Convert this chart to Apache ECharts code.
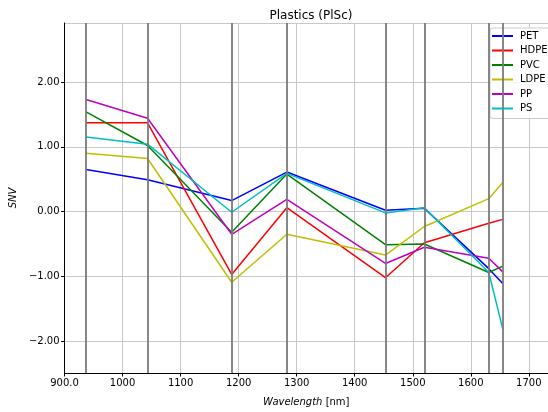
<!DOCTYPE html>
<html>
<head>
<meta charset="utf-8">
<script src="https://cdn.jsdelivr.net/npm/echarts@6/dist/echarts.min.js"></script>
<style>
html,body{margin:0;padding:0;background:#fff;}
#chart{width:548px;height:412px;}
</style>
</head>
<body>
<div id="chart"></div>
<script>
// Wavelengths (nm) of the measured bands
const wavelengths = [937, 1043, 1188, 1283, 1453, 1520, 1631, 1655];
const seriesNames = ['PET', 'HDPE', 'PVC', 'LDPE', 'PP', 'PS'];
const PET  = [0.65, 0.49, 0.17, 0.61, 0.02, 0.05, -0.88, -1.11];
const HDPE = [1.37, 1.37, -0.97, 0.06, -1.02, -0.48, -0.18, -0.12];
const PVC  = [1.54, 1.02, -0.32, 0.58, -0.51, -0.50, -0.94, -0.84];
const LDPE = [0.90, 0.82, -1.09, -0.35, -0.67, -0.23, 0.20, 0.45];
const PP   = [1.73, 1.44, -0.35, 0.19, -0.80, -0.55, -0.72, -0.93];
const PS   = [1.15, 1.04, -0.01, 0.59, -0.02, 0.06, -0.94, -1.81];
const xTickValues = [900, 1000, 1100, 1200, 1300, 1400, 1500, 1600, 1700];
const yTickValues = [-2, -1, 0, 1, 2];

const seriesValues = [PET, HDPE, PVC, LDPE, PP, PS];
const colors = ['#0000ff', '#ff0000', '#008000', '#bfbf00', '#bf00bf', '#00bfbf'];
const FONT = 'DejaVu Sans';

const chart = echarts.init(document.getElementById('chart'), null, {renderer: 'canvas'});

const series = seriesNames.map((name, i) => ({
  name: name,
  type: 'line',
  data: wavelengths.map((w, j) => [w, seriesValues[i][j]]),
  showSymbol: false,
  symbol: 'none',
  lineStyle: {color: colors[i], width: 1.5},
  itemStyle: {color: colors[i]},
  z: 3,
  animation: false
}));

series.push({
  name: 'bands',
  type: 'line',
  data: [],
  silent: true,
  z: 2,
  markLine: {
    silent: true,
    symbol: ['none', 'none'],
    label: {show: false},
    lineStyle: {color: '#7a7a7a', width: 2, type: 'solid', opacity: 0.9},
    data: wavelengths.map(w => ({xAxis: w})),
    animation: false
  }
});

chart.setOption({
  animation: false,
  backgroundColor: '#ffffff',
  title: {
    text: 'Plastics (PlSc)',
    left: 306, top: 5, textAlign: 'center',
    textStyle: {fontFamily: FONT, fontSize: 12, fontWeight: 'normal', color: '#000'}
  },
  grid: {left: 64, right: 0, top: 23, bottom: 34, containLabel: false},
  legend: {
    data: seriesNames,
    orient: 'vertical',
    left: 490, top: 28,
    icon: 'rect',
    itemWidth: 21, itemHeight: 2,
    itemGap: 4.5,
    padding: [3, 12, 5, 2],
    backgroundColor: 'rgba(255,255,255,0.85)',
    borderColor: '#cccccc', borderWidth: 1, borderRadius: 3,
    textStyle: {fontFamily: FONT, fontSize: 10, color: '#000', padding: [0, 0, 0, 2], lineHeight: 10}
  },
  xAxis: {
    type: 'value',
    min: 900, max: 1733, interval: 100,
    name: '{i|Wavelength} [nm]',
    nameLocation: 'middle', nameGap: 24,
    nameTextStyle: {
      fontFamily: FONT, fontSize: 10, color: '#000',
      rich: {i: {fontFamily: FONT, fontSize: 10, fontStyle: 'italic', color: '#000'}}
    },
    axisLine: {show: true, onZero: false, lineStyle: {color: '#000', width: 1}},
    axisTick: {show: true, length: 3.5, inside: false, lineStyle: {color: '#000'}},
    axisLabel: {
      fontFamily: FONT, fontSize: 10, color: '#000', margin: 5, showMaxLabel: false,
      formatter: v => (xTickValues.indexOf(v) < 0 ? '' : (v === 900 ? '900.0' : String(v)))
    },
    splitLine: {show: true, lineStyle: {color: '#c8c8c8', width: 1}}
  },
  yAxis: {
    type: 'value',
    min: -2.49, max: 2.91, splitNumber: 5,
    name: 'SNV',
    nameLocation: 'middle', nameGap: 42,
    nameTextStyle: {fontFamily: FONT, fontSize: 10, fontStyle: 'italic', color: '#000'},
    axisLine: {show: true, onZero: false, lineStyle: {color: '#000', width: 1}},
    axisTick: {show: true, length: 3.5, inside: false, lineStyle: {color: '#000'}},
    axisLabel: {
      fontFamily: FONT, fontSize: 10, color: '#000', margin: 5,
      showMinLabel: false, showMaxLabel: false,
      formatter: v => (yTickValues.indexOf(Math.round(v * 100) / 100) < 0 ? '' : v.toFixed(2).replace('-', '\u2212'))
    },
    splitLine: {show: true, lineStyle: {color: '#c8c8c8', width: 1}}
  },
  series: series
});
</script>
</body>
</html>
